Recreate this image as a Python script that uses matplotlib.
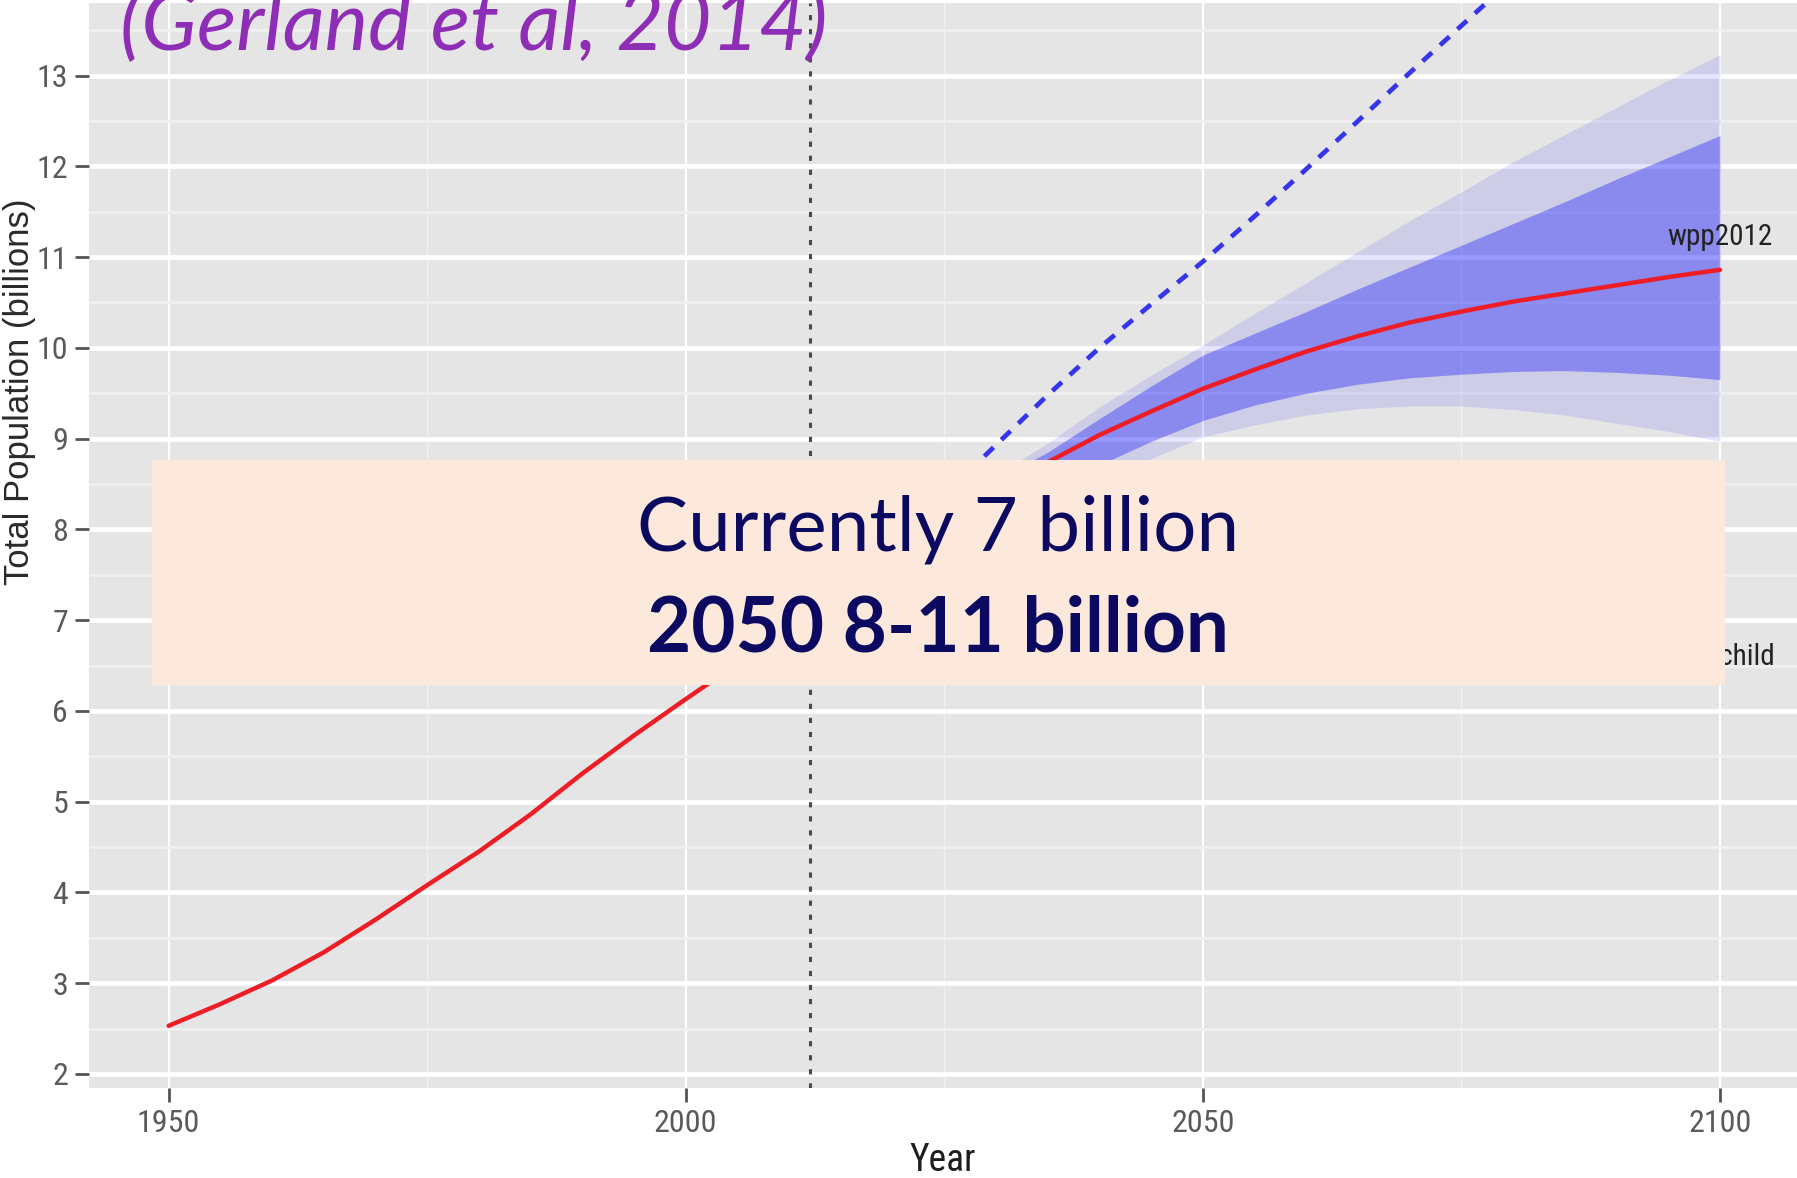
import matplotlib.pyplot as plt
from matplotlib.patches import Rectangle
from matplotlib.ticker import MultipleLocator

# World population, estimates (billions)
past_years = [1950, 1955, 1960, 1965, 1970, 1975, 1980, 1985, 1990, 1995, 2000, 2005, 2010]
past_pop = [2.53, 2.77, 3.03, 3.34, 3.70, 4.08, 4.45, 4.86, 5.31, 5.73, 6.13, 6.52, 6.92]

# Probabilistic projection, median and 80% / 95% intervals
proj_years = [2010, 2015, 2020, 2025, 2030, 2035, 2040, 2045, 2050, 2055,
              2060, 2065, 2070, 2075, 2080, 2085, 2090, 2095, 2100]
median = [6.92, 7.32, 7.72, 8.08, 8.42, 8.74, 9.04, 9.30, 9.55, 9.76,
          9.96, 10.13, 10.28, 10.40, 10.51, 10.60, 10.69, 10.78, 10.86]
upper95 = [6.93, 7.36, 7.80, 8.25, 8.60, 8.95, 9.35, 9.70, 10.03, 10.38,
           10.72, 11.06, 11.40, 11.72, 12.05, 12.35, 12.65, 12.95, 13.23]
upper80 = [6.93, 7.35, 7.77, 8.20, 8.55, 8.85, 9.22, 9.58, 9.92, 10.16,
           10.40, 10.65, 10.89, 11.13, 11.37, 11.61, 11.86, 12.10, 12.34]
lower80 = [6.91, 7.28, 7.62, 7.92, 8.20, 8.46, 8.71, 8.97, 9.20, 9.37,
           9.50, 9.60, 9.67, 9.71, 9.74, 9.75, 9.73, 9.70, 9.65]
lower95 = [6.90, 7.25, 7.55, 7.82, 8.08, 8.33, 8.57, 8.78, 9.02, 9.15,
           9.26, 9.33, 9.36, 9.36, 9.32, 9.26, 9.17, 9.08, 8.97]

# Deterministic variants (+/- half a child)
high_variant = [6.92, 7.38, 7.87, 8.38, 8.93, 9.48, 10.00, 10.48, 10.95, 11.45,
                11.97, 12.50, 13.03, 13.55, 14.07, 14.60, 15.15, 15.70, 16.20]
low_variant = [6.92, 7.27, 7.57, 7.80, 7.96, 8.10, 8.20, 8.28, 8.34, 8.32,
               8.26, 8.16, 8.03, 7.86, 7.66, 7.46, 7.24, 7.00, 6.75]

current_year = 2012
label_names = ["wpp2012", "-1/2 child"]
label_values = [11.22, 6.59]

x_ticks = [1950, 2000, 2050, 2100]
y_ticks = list(range(2, 14))

narrow = ["Roboto Condensed", "Liberation Sans"]

W, H = 1797, 1178
fig = plt.figure(figsize=(W / 100, H / 100), dpi=100)
ax = fig.add_axes([89 / W, 1 - 1088 / H, 1 - 89 / W, (1088 - 3) / H])
ax.set_facecolor("#E5E5E5")

# grid, ggplot style
ax.xaxis.set_major_locator(MultipleLocator(50))
ax.xaxis.set_minor_locator(MultipleLocator(25))
ax.yaxis.set_major_locator(MultipleLocator(1))
ax.yaxis.set_minor_locator(MultipleLocator(0.5))
ax.grid(axis="y", which="major", color="white", lw=3.4, zorder=0)
ax.grid(axis="y", which="minor", color="#F0F0F0", lw=2.0, zorder=0)
ax.grid(axis="x", which="major", color="white", lw=1.6, zorder=0)
ax.grid(axis="x", which="minor", color="#F0F0F0", lw=1.0, zorder=0)
ax.set_axisbelow(True)
for s in ax.spines.values():
    s.set_visible(False)

# intervals
ax.fill_between(proj_years, lower95, upper95, color="blue", alpha=0.10, lw=0, zorder=2)
ax.fill_between(proj_years, lower80, upper80, color="blue", alpha=0.33, lw=0, zorder=3)

# variants
ax.plot(proj_years, high_variant, color="#3535EE", lw=3.4, dashes=(2.7, 2.3), zorder=4)
ax.plot(proj_years, low_variant, color="#3535EE", lw=3.4, dashes=(2.7, 2.3), zorder=4)

# estimates + median
ax.plot(past_years, past_pop, color="#EE1C25", lw=3.2, zorder=5, solid_capstyle="round")
ax.plot(proj_years, median, color="#EE1C25", lw=3.2, zorder=5, solid_capstyle="round")

ax.axvline(current_year, color="#4A4A4A", lw=2.2, dashes=(1.7, 2.9), zorder=6)

for name, val in zip(label_names, label_values):
    ax.text(2100, val, name, ha="center", va="center", fontsize=21, color="#222222",
            family=narrow, zorder=7)

ax.set_xlim(1942.3, 2107.45)
ax.set_ylim(1.845, 13.8)
ax.set_xticks(x_ticks)
ax.set_yticks(y_ticks)

tick_font = dict(family=narrow, size=23)
ax.set_xticklabels(x_ticks, fontdict=tick_font, color="#5A5A5A")
ax.set_yticklabels(y_ticks, fontdict=tick_font, color="#5A5A5A")
ax.tick_params(axis="both", which="major", color="#555555", length=10, width=2, pad=5)
ax.tick_params(axis="both", which="minor", length=0)

ax.set_xlabel("Year", family=narrow, fontsize=27, color="#1E1E1E", labelpad=3)
fig.text(20 / W, 1 - 392 / H, "Total Population (billions)", rotation=90,
         ha="center", va="center", fontsize=25, color="#2A2A2A", family="Liberation Sans")

# citation
fig.text(120 / W, 1 - 50 / H, "(Gerland et al, 2014)", ha="left", va="baseline",
         fontsize=59, style="italic", color="#8E2DB5", family="Lato")

# callout box
fig.patches.append(Rectangle((152 / W, 1 - 685 / H), (1725 - 152) / W, (685 - 460) / H,
                             transform=fig.transFigure, facecolor="#FCE9DC",
                             edgecolor="none", zorder=10))
fig.text(938 / W, 1 - 550 / H, "Currently 7 billion", ha="center", va="baseline",
         fontsize=55, color="#0C0A60", family="Lato", zorder=11)
fig.text(938 / W, 1 - 652 / H, "2050 8-11 billion", ha="center", va="baseline",
         fontsize=55, fontweight="bold", color="#0C0A60", family="Lato", zorder=11)

fig.savefig("out.png", dpi=100)
